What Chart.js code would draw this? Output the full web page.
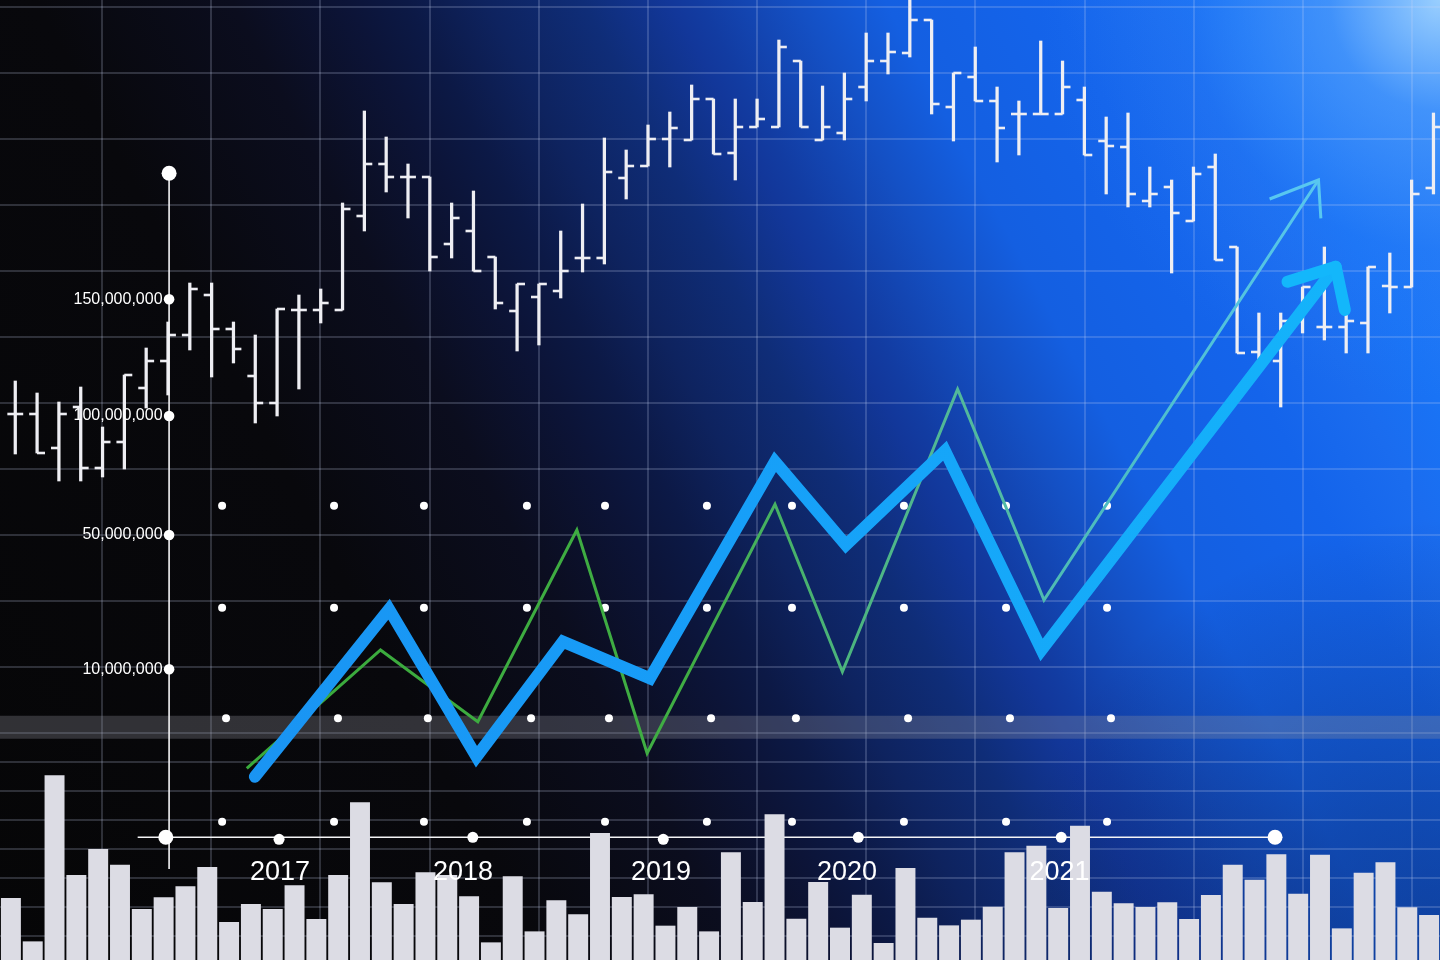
<!DOCTYPE html>
<html>
<head>
<meta charset="utf-8">
<script src="https://cdn.jsdelivr.net/npm/chart.js@4.4.1/dist/chart.umd.min.js"></script>
<style>
  html, body { margin: 0; padding: 0; }
  body { width: 1440px; height: 960px; overflow: hidden; background: #000; }
  .stage {
    position: relative; width: 1440px; height: 960px;
    background:
      radial-gradient(circle at 100% 0%, rgba(165,215,255,0.9) 0px, rgba(95,170,255,0.5) 110px, rgba(55,135,250,0.18) 250px, rgba(40,120,250,0) 400px),
      radial-gradient(circle at 100% 100%, rgba(6,14,50,0.4) 0px, rgba(6,14,50,0.28) 160px, rgba(6,14,50,0) 440px),
      linear-gradient(62deg, #060607 0%, #08080c 28%, #0b0d1e 38%, #0c1438 44%, #0c1946 47%, #0e235f 51%, #0f2d78 56%, #12379a 60.5%, #123ca2 62%, #1450c4 67%, #145fe1 71.5%, #1464eb 80%, #1a6cef 85%, #1973f5 89%, #2a80f8 100%);
  }
</style>
</head>
<body>
<div class="stage"><canvas id="chart" width="1440" height="960"></canvas></div>
<script>
// ---- values (x in bar slots, y in chart units 0..96) ----
const volume = [6.17, 1.83, 18.43, 8.47, 11.07, 9.5, 5.07, 6.23, 7.33, 9.27, 3.77, 5.57, 5.07, 7.43, 4.07, 8.47,
  15.73, 7.73, 5.57, 8.73, 8.47, 6.33, 1.73, 8.33, 2.83, 5.93, 4.53, 12.67, 6.27, 6.53, 3.4, 5.27, 2.83, 10.73,
  5.77, 14.53, 4.1, 7.77, 3.2, 6.5, 1.67, 9.17, 4.2, 3.43, 4.0, 5.3, 10.73, 11.4, 5.17, 13.4, 6.8, 5.63, 5.27,
  5.73, 4.07, 6.47, 9.5, 8.0, 10.53, 6.6, 10.5, 3.13, 8.7, 9.73, 5.23, 4.47];

const ohlcOpen = [54.6, 54.6, 51.2, 55.3, 49.2, 51.8, 57.2, 59.9, 62.5, 66.5, 63.1, 58.4, 55.7, 65.0, 65.0, 65.0,
  74.4, 79.6, 78.3, 78.3, 71.6, 72.9, 70.3, 64.9, 66.3, 66.9, 70.2, 70.2, 78.2, 79.4, 82.1, 82.0, 86.1, 80.7,
  83.3, 83.3, 89.9, 82.0, 82.7, 87.3, 89.9, 90.7, 94.0, 85.3, 88.3, 85.9, 84.6, 84.6, 84.6, 86.0, 81.9, 81.3,
  75.9, 77.3, 73.9, 79.3, 71.3, 60.8, 59.9, 63.9, 63.3, 63.3, 63.7, 67.4, 67.3, 77.2];
const ohlcHigh = [57.9, 56.7, 55.8, 57.3, 53.3, 58.5, 61.2, 63.8, 67.7, 67.7, 63.8, 62.5, 65.1, 66.5, 67.1, 75.7,
  84.9, 82.3, 79.6, 78.3, 75.7, 76.9, 70.3, 67.6, 67.6, 72.9, 75.6, 82.2, 81.0, 83.5, 84.8, 87.5, 86.1, 86.1,
  86.1, 92.0, 89.9, 87.4, 88.7, 92.7, 92.7, 97.0, 94.0, 88.7, 91.3, 87.3, 85.9, 91.9, 89.9, 87.3, 84.3, 84.7,
  79.3, 78.0, 79.3, 80.6, 71.3, 64.7, 64.7, 67.3, 71.3, 64.7, 69.3, 70.7, 78.0, 84.7];
const ohlcLow = [50.6, 50.7, 47.9, 47.9, 48.3, 49.1, 55.2, 56.5, 61.0, 58.3, 59.7, 53.7, 54.4, 57.1, 63.7, 65.0,
  72.9, 76.8, 74.2, 68.9, 70.2, 68.9, 65.1, 60.9, 61.5, 66.2, 68.8, 69.6, 76.1, 79.4, 79.3, 82.0, 80.6, 78.0,
  83.3, 83.3, 83.3, 82.0, 82.0, 85.9, 88.6, 90.3, 84.6, 81.9, 85.9, 79.8, 80.5, 84.6, 84.6, 80.5, 76.6, 75.3,
  75.3, 68.7, 73.9, 70.0, 60.7, 59.9, 55.3, 62.7, 62.0, 60.7, 60.7, 64.7, 67.3, 76.6];
const ohlcClose = [54.6, 50.7, 54.6, 49.2, 51.8, 58.5, 59.9, 62.5, 67.1, 63.1, 61.1, 55.7, 65.1, 65.0, 65.7, 75.1,
  79.6, 78.3, 78.3, 70.3, 74.2, 68.9, 65.7, 67.6, 67.6, 68.9, 70.2, 78.8, 79.4, 82.1, 83.2, 86.1, 80.6, 83.3,
  84.1, 91.3, 83.3, 83.3, 86.1, 89.9, 90.8, 94.0, 85.6, 88.7, 85.9, 83.2, 84.6, 84.6, 87.3, 80.5, 81.4, 76.6,
  76.6, 74.7, 78.6, 70.0, 60.7, 60.2, 63.9, 67.3, 63.3, 63.9, 69.3, 67.3, 76.6, 83.3];

const blueLineX = [11.18, 17.33, 21.34, 25.30, 29.29, 35.02, 38.27, 42.81, 47.24, 60.72];
const blueLineY = [18.33, 35.07, 20.33, 31.83, 28.17, 49.83, 41.5, 50.93, 31.0, 69.33];
const blueHeadX = [58.51, 60.72, 61.14];
const blueHeadY = [67.83, 69.33, 65.0];

const greenLineX = [10.81, 16.94, 21.40, 25.94, 29.16, 35.02, 38.11, 43.39, 47.35, 59.93];
const greenLineY = [19.17, 31.0, 23.83, 43.0, 20.67, 45.57, 28.83, 57.07, 36.0, 78.0];
const greenHeadX = [57.69, 59.93, 60.04];
const greenHeadY = [76.1, 78.0, 74.17];

const yTickValues = [66.07, 54.4, 42.5, 29.07];
const yTickLabels = ['150,000,000', '100,000,000', '50,000,000', '10,000,000'];

const yearLabels = ['2017', '2018', '2019', '2020', '2021'];
const yearTickX = [12.33, 20.72, 29.8, 38.32, 48.06];
const yearDotX = [12.29, 21.17, 29.9, 38.84, 48.14];
const yearDotY = [12.07, 12.27, 12.07, 12.27, 12.27];

const dotRowY = [45.43, 35.23, 24.17, 13.83];
const dotColX = [9.68, 14.81, 18.93, 23.65, 27.23, 31.9, 35.8, 40.93, 45.61, 50.24];
const dotColXBand = [9.86, 14.99, 19.11, 23.84, 27.41, 32.09, 35.98, 41.12, 45.79, 50.42];

// ---- layout constants ----
const X_MIN = -0.5, X_MAX = 65.5, Y_MIN = 0, Y_MAX = 96;
const AXIS_X = 7.25, AXIS_Y = 12.27;
const AXIS_TOP = 78.67, AXIS_BOTTOM = 9.1, AXIS_LEFT = 5.81, AXIS_RIGHT = 57.94;
const LABEL_GAP = 0.3;
const BAND_Y = 23.27;
const OHLC_SHIFT = 0.2, TICK_SHIFT = 0.18;
const GRID = 'rgba(205, 215, 245, 0.2)';
const MARK = '#eeeef3';

Chart.defaults.font.family = "'Liberation Sans', Arial, sans-serif";

function pts(xs, ys) {
  return xs.map((x, i) => ({ x: x, y: ys[i] }));
}

function gridValues(start, step, count) {
  const v = [];
  for (let k = 0; k < count; k++) v.push(start + step * k);
  return v;
}
const gridX = gridValues(4.175, 5.0035, 13);
const gridY = gridValues(95.33, -6.6, 12).concat(gridValues(19.82, -2.91, 7));

function stroke(stops) {
  return function (c) {
    const area = c.chart.chartArea;
    if (!area) return stops[0][1];
    const g = c.chart.ctx.createLinearGradient(area.left, 0, area.right, 0);
    stops.forEach(s => g.addColorStop(s[0], s[1]));
    return g;
  };
}

function zeroPad(s) {
  s.paddingLeft = 0; s.paddingRight = 0; s.paddingTop = 0; s.paddingBottom = 0;
}

const dotPoints = [];
dotRowY.forEach((y, r) => {
  const cols = r === 2 ? dotColXBand : dotColX;
  cols.forEach(x => dotPoints.push({ x: x, y: y }));
});

const greenStops = [[0, '#36a936'], [0.48, '#40ad44'], [0.58, '#4bb47a'], [0.67, '#52b99c'], [0.78, '#4cbdc6'], [0.92, '#58c7f0'], [1, '#58c7f0']];
const blueStops = [[0, '#1b8ff0'], [0.5, '#179ef8'], [1, '#13b7fb']];

new Chart(document.getElementById('chart'), {
  type: 'bar',
  data: {
    datasets: [
      { type: 'line', label: 'band', data: pts([X_MIN, X_MAX], [BAND_Y, BAND_Y]),
        borderColor: 'rgba(150,150,160,0.3)', borderWidth: 23, pointRadius: 0, order: 100 },
      { type: 'bar', label: 'range', data: ohlcHigh.map((h, i) => ({ x: i + OHLC_SHIFT, y: [ohlcLow[i], h] })),
        backgroundColor: MARK, barThickness: 2.6, grouped: false, order: 90 },
      { type: 'line', label: 'open', data: ohlcOpen.map((o, i) => ({ x: i + OHLC_SHIFT - TICK_SHIFT, y: o })),
        showLine: false, pointStyle: 'line', pointRadius: 4, pointBorderWidth: 2.6, pointBorderColor: MARK, order: 89 },
      { type: 'line', label: 'close', data: ohlcClose.map((c, i) => ({ x: i + OHLC_SHIFT + TICK_SHIFT, y: c })),
        showLine: false, pointStyle: 'line', pointRadius: 4, pointBorderWidth: 2.6, pointBorderColor: MARK, order: 88 },
      { type: 'line', label: 'dots', data: dotPoints, showLine: false,
        pointRadius: 4, pointBackgroundColor: '#ffffff', pointBorderWidth: 0, order: 80 },
      { type: 'line', label: 'y axis', data: pts([AXIS_X, AXIS_X], [AXIS_BOTTOM, AXIS_TOP]),
        borderColor: '#f4f4f6', borderWidth: 1.6, pointRadius: 0, order: 70 },
      { type: 'line', label: 'x axis', data: pts([AXIS_LEFT, AXIS_RIGHT], [AXIS_Y, AXIS_Y]),
        borderColor: '#f4f4f6', borderWidth: 1.6, pointRadius: 0, order: 70 },
      { type: 'line', label: 'axis ends', data: pts([AXIS_X, 7.1, AXIS_RIGHT], [AXIS_TOP, AXIS_Y, AXIS_Y]), showLine: false,
        pointRadius: 7.5, pointBackgroundColor: '#ffffff', pointBorderWidth: 0, order: 69 },
      { type: 'line', label: 'y ticks', data: yTickValues.map(v => ({ x: AXIS_X, y: v })), showLine: false,
        pointRadius: 5.3, pointBackgroundColor: '#ffffff', pointBorderWidth: 0, order: 69 },
      { type: 'line', label: 'year ticks', data: pts(yearDotX, yearDotY), showLine: false,
        pointRadius: 5.5, pointBackgroundColor: '#ffffff', pointBorderWidth: 0, order: 69 },
      { type: 'bar', label: 'volume', data: volume.map((v, i) => ({ x: i, y: v })),
        backgroundColor: '#dcdce4', barThickness: 19.3, grouped: false, order: 60 },
      { type: 'line', label: 'green', data: pts(greenLineX, greenLineY), borderColor: stroke(greenStops),
        borderWidth: 3, pointRadius: 0, tension: 0, borderJoinStyle: 'miter', order: 20 },
      { type: 'line', label: 'green head', data: pts(greenHeadX, greenHeadY), borderColor: '#58c7f0',
        borderWidth: 3, pointRadius: 0, tension: 0, order: 19 },
      { type: 'line', label: 'blue', data: pts(blueLineX, blueLineY), borderColor: stroke(blueStops),
        borderWidth: 12, pointRadius: 0, tension: 0, borderCapStyle: 'round', borderJoinStyle: 'miter', order: 10 },
      { type: 'line', label: 'blue head', data: pts(blueHeadX, blueHeadY), borderColor: '#13b7fb',
        borderWidth: 12, pointRadius: 0, tension: 0, borderCapStyle: 'round', borderJoinStyle: 'round', order: 9 }
    ]
  },
  options: {
    responsive: false,
    animation: false,
    events: [],
    layout: { padding: 0, autoPadding: false },
    plugins: { legend: { display: false }, tooltip: { enabled: false } },
    scales: {
      x: {
        type: 'linear', min: X_MIN, max: X_MAX, offset: false,
        ticks: { display: false }, border: { display: false },
        grid: { color: GRID, lineWidth: 2, drawTicks: false, offset: false },
        afterBuildTicks: s => { s.ticks = gridX.map(v => ({ value: v })); }
      },
      y: {
        type: 'linear', min: Y_MIN, max: Y_MAX,
        ticks: { display: false }, border: { display: false },
        grid: { color: GRID, lineWidth: 2, drawTicks: false },
        afterBuildTicks: s => { s.ticks = gridY.map(v => ({ value: v })); }
      },
      yl: {
        axis: 'y', type: 'linear', min: Y_MIN, max: Y_MAX, position: { x: AXIS_X - LABEL_GAP },
        grid: { display: false, drawTicks: false }, border: { display: false },
        ticks: { color: '#ffffff', font: { size: 16 }, padding: 0, autoSkip: false, z: 1,
          callback: (v, i) => yTickLabels[i] },
        afterBuildTicks: s => { s.ticks = yTickValues.map(v => ({ value: v })); },
        afterFit: zeroPad
      },
      xl: {
        axis: 'x', type: 'linear', min: X_MIN, max: X_MAX, position: { y: AXIS_Y }, offset: false,
        grid: { display: false, drawTicks: false, offset: false }, border: { display: false },
        ticks: { color: '#ffffff', font: { size: 27 }, padding: 19, autoSkip: false, minRotation: 0, maxRotation: 0, z: 1,
          callback: (v, i) => yearLabels[i] },
        afterBuildTicks: s => { s.ticks = yearTickX.map(v => ({ value: v })); },
        afterFit: zeroPad
      }
    }
  }
});
</script>
</body>
</html>
